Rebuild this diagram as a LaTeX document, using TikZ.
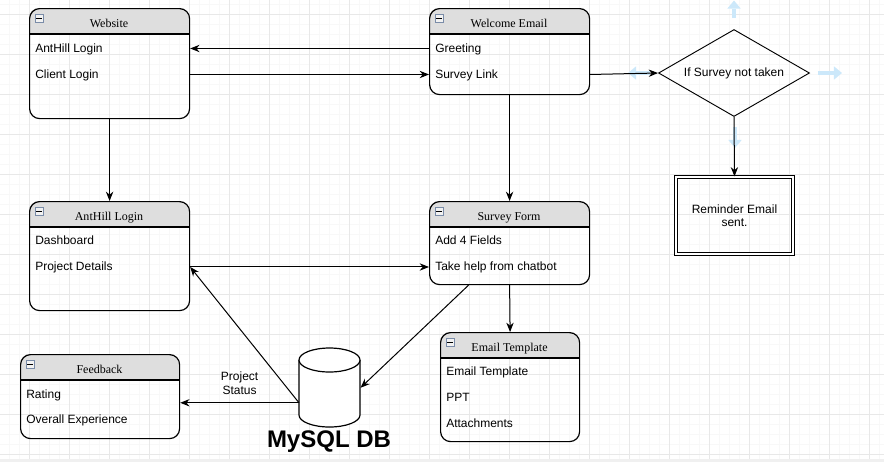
\documentclass[tikz,border=0pt]{standalone}
\usepackage{fontspec}
\setmainfont{Liberation Sans}
\newfontfamily\serifhdr{Liberation Serif}
\usetikzlibrary{arrows.meta,shapes.geometric,calc}

\definecolor{gridminor}{HTML}{F8F8F8}
\definecolor{gridmajor}{HTML}{E8E8E8}
\definecolor{stripgray}{HTML}{F0F0F0}
\definecolor{hdrfill}{HTML}{DEDEDE}
\definecolor{hintblue}{HTML}{CCE8FA}
\definecolor{iconline}{HTML}{7A8CA8}

\tikzset{
  boxframe/.style={draw, line width=0.9pt, rounded corners=7.5pt, inner sep=0pt},
  hdrtext/.style={font=\serifhdr\fontsize{9}{10}\selectfont, inner sep=0pt, anchor=base},
  item/.style={font=\fontsize{9}{10}\selectfont, anchor=base west, inner sep=0pt},
  conn/.style={draw, line width=0.75pt, -{Stealth[length=7pt,width=5.5pt]}},
  hintarrow/.style={draw=hintblue, line width=3.4pt, -{Triangle[length=6pt,width=10pt,line width=0pt]}},
  iconbox/.style={draw=iconline, fill=hdrfill!40, minimum size=6pt, inner sep=0pt, line width=0.5pt},
}

% #1 name, #2 x, #3 y, #4 width, #5 height, #6 title
\newcommand\classbox[6]{%
  \begin{scope}
    \clip[rounded corners=7.5pt] (#2,#3) rectangle ++(#4,#5);
    \fill[hdrfill] (#2,#3) rectangle ++(#4,26);
  \end{scope}
  \node[boxframe, minimum width=#4*0.75pt, minimum height=#5*0.75pt, anchor=north west] (#1) at (#2,#3) {};
  \draw[line width=0.9pt] (#2,#3+26) -- ++(#4,0);
  \node[hdrtext] (#1-title) at (#2+#4/2,#3+19.5) {#6};
  \node[iconbox] (#1-icon) at (#2+10,#3+10.5) {};
  \draw[line width=0.6pt] ([xshift=1.2pt]#1-icon.west) -- ([xshift=-1.2pt]#1-icon.east);
}

\begin{document}
\begin{tikzpicture}[x=0.75pt,y=-0.75pt]
  % background and grid
  \fill[white] (0,0) rectangle (884,462);
  \useasboundingbox (0,0) rectangle (884,462);
  \foreach \x in {9,19,...,879} \draw[gridminor,line width=0.75pt] (\x,0) -- (\x,459);
  \foreach \y in {4,14,...,454} \draw[gridminor,line width=0.75pt] (0,\y) -- (884,\y);
  \foreach \x in {29,69,...,869} \draw[gridmajor,line width=0.75pt] (\x,0) -- (\x,459);
  \foreach \y in {14,54,...,454} \draw[gridmajor,line width=0.75pt] (0,\y) -- (884,\y);
  \fill[stripgray] (0,459) rectangle (884,462);

  % class boxes
  \classbox{web}{29}{8}{160}{110}{Website}
  \node[item] (webAnt) at (35,52) {AntHill Login};
  \node[item] (webClient) at (35,78) {Client Login};

  \classbox{we}{429}{8}{160}{86}{Welcome Email}
  \node[item] (weGreet) at (435,52) {Greeting};
  \node[item] (weSurvey) at (435,78) {Survey Link};

  \classbox{ah}{29}{201}{160}{109}{AntHill Login}
  \node[item] (ahDash) at (35,244) {Dashboard};
  \node[item] (ahProj) at (35,270.5) {Project Details};

  \classbox{sf}{429}{201}{160}{83}{Survey Form}
  \node[item] (sfAdd) at (435,244) {Add 4 Fields};
  \node[item] (sfHelp) at (435,270.5) {Take help from chatbot};

  \classbox{et}{440}{332}{139}{109}{Email Template}
  \node[item] (etTpl) at (446,375) {Email Template};
  \node[item] (etPpt) at (446,401) {PPT};
  \node[item] (etAtt) at (446,427) {Attachments};

  \classbox{fb}{20}{354}{159}{84}{Feedback}
  \node[item] (fbRate) at (26,398.5) {Rating};
  \node[item] (fbExp) at (26,423.5) {Overall Experience};

  % decision and hint arrows
  \node[diamond, draw, line width=0.7pt, minimum width=113.25pt, minimum height=65.25pt,
        inner sep=0pt, shape aspect=1.736, font=\fontsize{9}{10}\selectfont] (dec) at (734,73) {If Survey not taken};
  \draw[hintarrow] ($(dec.north)+(0,-11)$) -- ($(dec.north)+(0,-28.5)$);
  \draw[hintarrow] ($(dec.west)+(-8,0)$) -- ($(dec.west)+(-30,0)$);
  \draw[hintarrow] ($(dec.east)+(8,0)$) -- ($(dec.east)+(32,0)$);
  \draw[hintarrow] ($(dec.south)+(1,10)$) -- ($(dec.south)+(1,31)$);

  % reminder
  \node[draw, double, double distance=1.5pt, line width=0.6pt, minimum width=88pt, minimum height=58pt,
        inner sep=0pt, align=center, font=\fontsize{9}{10}\selectfont] (rem) at (734.5,215.5) {Reminder Email\\sent.};

  % database
  \node[minimum width=45.75pt, minimum height=59.25pt, inner sep=0pt, anchor=north west] (db) at (299,348) {};
  \fill[white] (299,360) -- (299,415) arc[start angle=180,end angle=360,x radius=22.875pt,y radius=9pt] -- (360,360) -- cycle;
  \draw[line width=0.9pt] (299,360) -- (299,415) arc[start angle=180,end angle=360,x radius=22.875pt,y radius=9pt] -- (360,360);
  \draw[line width=0.9pt,fill=white] (329.5,360) ellipse[x radius=22.875pt,y radius=9pt];
  \node[font=\bfseries\fontsize{18}{20}\selectfont, anchor=base, inner sep=0pt] (dblabel) at (329,447) {MySQL DB};
  \coordinate (dbl) at ($(db.west)+(0,15)$);

  % connectors
  \draw[conn] (we.west |- weGreet.mid) -- (web.east |- weGreet.mid);
  \draw[conn] (web.east |- webClient.mid) -- (we.west |- webClient.mid);
  \draw[conn] (we.east |- weSurvey.mid) -- (dec.west);
  \draw[conn] (dec.south) -- (rem.north);
  \draw[conn] (web.south) -- (ah.north);
  \draw[conn] (we.south) -- (sf.north);
  \draw[conn] (ah.east |- ahProj.mid) -- (sf.west |- ahProj.mid);
  \draw[conn] (sf.south) -- (et.north);
  \draw[conn] ($(sf.south west)!0.245!(sf.south east)$) -- (db.east);
  \draw[conn] (dbl) -- (ah.east |- ahProj.mid);
  \draw[conn] (dbl) -- (fb.east |- dbl) node[pos=0.5, above=5.5pt, align=center, font=\fontsize{9}{10.5}\selectfont, inner sep=0pt] (lbl) {Project\\Status};
\end{tikzpicture}
\end{document}
